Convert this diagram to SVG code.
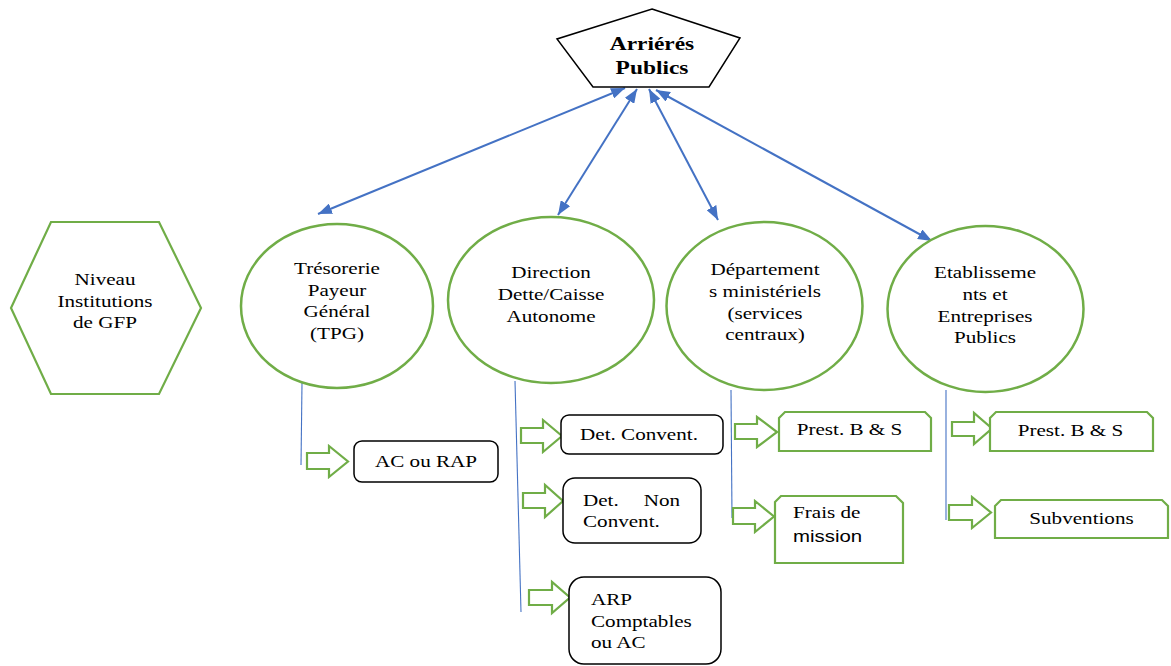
<svg xmlns="http://www.w3.org/2000/svg" width="1171" height="666" viewBox="0 0 1171 666">
<style>
  text{font-family:"Liberation Serif","Times New Roman",serif;font-size:16.5px;fill:#000}
  .c{text-anchor:middle}
  .b{font-weight:bold;font-size:18px}
  .sans{font-family:"Liberation Sans",Arial,sans-serif;font-size:17px}
  .g{fill:#fff;stroke:#70AD47;stroke-width:2.2}
  .ell{fill:#fff;stroke:#70AD47;stroke-width:2.5}
  .k{fill:#fff;stroke:#000;stroke-width:1.5}
  .blue{stroke:#4472C4;stroke-width:2;fill:none}
  .vl{stroke:#4472C4;stroke-width:1.1;fill:none}
</style>
<defs>
  <marker id="ah" viewBox="0 0 14 11" refX="14" refY="5.5" markerWidth="14" markerHeight="11" markerUnits="userSpaceOnUse" orient="auto-start-reverse">
    <path d="M0,0 L14,5.5 L0,11 Z" fill="#4472C4"/>
  </marker>
</defs>
<rect width="1171" height="666" fill="#fff"/>

<g id="connectors">
  <line class="blue" x1="625" y1="88" x2="318" y2="214" marker-start="url(#ah)" marker-end="url(#ah)"/>
  <line class="blue" x1="637" y1="89" x2="558" y2="215" marker-start="url(#ah)" marker-end="url(#ah)"/>
  <line class="blue" x1="649" y1="89" x2="718" y2="220" marker-start="url(#ah)" marker-end="url(#ah)"/>
  <line class="blue" x1="656" y1="90" x2="932" y2="241" marker-start="url(#ah)" marker-end="url(#ah)"/>
  <line class="vl" x1="302" y1="383" x2="301" y2="465"/>
  <line class="vl" x1="515" y1="381" x2="521" y2="612"/>
  <line class="vl" x1="731" y1="390" x2="732" y2="518"/>
  <line class="vl" x1="946" y1="390" x2="946" y2="520"/>
  <path class="g" d="M307,453 H329 V446 L348,461.5 L329,477 V469 H307 Z"/>
  <path class="g" d="M521,428 H543 V420 L562,436 L543,452 V443 H521 Z"/>
  <path class="g" d="M523,493 H545 V485 L563,501 L545,517 V508 H523 Z"/>
  <path class="g" d="M529,590 H552 V582 L570,597.5 L552,613 V605 H529 Z"/>
  <path class="g" d="M735,424 H757 V417 L777,432 L757,447 V439 H735 Z"/>
  <path class="g" d="M733,508 H755 V501 L774,516.5 L755,532 V524 H733 Z"/>
  <path class="g" d="M952,422 H974 V413 L992,428.5 L974,444 V436 H952 Z"/>
  <path class="g" d="M949,505 H972 V497 L991,512.5 L972,528 V520 H949 Z"/>
</g>

<g id="arrieres">
  <polygon points="652,9 740,38 709,87 593,87 557,39" fill="#fff" stroke="#000" stroke-width="1.5"/>
  <text class="c b" transform="translate(652,50) scale(1.3,1)">Arriérés</text>
  <text class="c b" transform="translate(652,74) scale(1.3,1)">Publics</text>
</g>

<g id="niveau">
  <polygon points="51,222 159,222 201,308 159,394 51,394 11,308" class="g"/>
  <text class="c" transform="translate(105,285) scale(1.28,1)">Niveau</text>
  <text class="c" transform="translate(105,306.5) scale(1.28,1)">Institutions</text>
  <text class="c" transform="translate(105,328) scale(1.28,1)">de GFP</text>
</g>

<g id="tpg">
  <ellipse class="ell" cx="337" cy="306" rx="96" ry="82"/>
  <text class="c" transform="translate(337,274) scale(1.28,1)">Trésorerie</text>
  <text class="c" transform="translate(337,295.5) scale(1.28,1)">Payeur</text>
  <text class="c" transform="translate(337,317) scale(1.28,1)">Général</text>
  <text class="c" transform="translate(337,338.5) scale(1.28,1)">(TPG)</text>
</g>

<g id="direction">
  <ellipse class="ell" cx="551" cy="300" rx="103" ry="83"/>
  <text class="c" transform="translate(551,278) scale(1.28,1)">Direction</text>
  <text class="c" transform="translate(551,300) scale(1.28,1)">Dette/Caisse</text>
  <text class="c" transform="translate(551,321.5) scale(1.28,1)">Autonome</text>
</g>

<g id="departements">
  <ellipse class="ell" cx="764.5" cy="306" rx="98" ry="84"/>
  <text class="c" transform="translate(765,275) scale(1.28,1)">Département</text>
  <text class="c" transform="translate(765,297) scale(1.28,1)">s ministériels</text>
  <text class="c" transform="translate(765,318.5) scale(1.28,1)">(services</text>
  <text class="c" transform="translate(765,340) scale(1.28,1)">centraux)</text>
</g>

<g id="etablissements">
  <ellipse class="ell" cx="985.5" cy="309" rx="98" ry="83"/>
  <text class="c" transform="translate(985,278) scale(1.28,1)">Etablisseme</text>
  <text class="c" transform="translate(985,300) scale(1.28,1)">nts et</text>
  <text class="c" transform="translate(985,321.5) scale(1.28,1)">Entreprises</text>
  <text class="c" transform="translate(985,343) scale(1.28,1)">Publics</text>
</g>

<g id="ac-rap">
  <rect class="k" x="354" y="441" width="144" height="41" rx="8"/>
  <text class="c" transform="translate(426,467) scale(1.28,1)">AC ou RAP</text>
</g>

<g id="det-convent">
  <rect class="k" x="561" y="415" width="162" height="39" rx="8"/>
  <text class="c" transform="translate(639,440) scale(1.28,1)">Det. Convent.</text>
</g>

<g id="det-non-convent">
  <rect class="k" x="563" y="478" width="138" height="65" rx="12"/>
  <text transform="translate(583,506) scale(1.28,1)">Det.</text>
  <text text-anchor="end" transform="translate(680,506) scale(1.28,1)">Non</text>
  <text transform="translate(583,527) scale(1.28,1)">Convent.</text>
</g>

<g id="arp">
  <rect class="k" x="569" y="577" width="152" height="87" rx="15"/>
  <text transform="translate(591,605) scale(1.28,1)">ARP</text>
  <text transform="translate(591,626.5) scale(1.28,1)">Comptables</text>
  <text transform="translate(591,648) scale(1.28,1)">ou AC</text>
</g>

<g id="prest-dep">
  <path class="g" d="M779,418 L785,412 H925 L931,418 V451 H779 Z"/>
  <text class="c" transform="translate(849.5,435) scale(1.28,1)">Prest. B &amp; S</text>
</g>

<g id="frais-mission">
  <path class="g" d="M775,502 L781,496 H896 L903,503 V563 H775 Z"/>
  <text transform="translate(793,518) scale(1.28,1)">Frais de</text>
  <text class="sans" transform="translate(793,542) scale(1.2,1)">mission</text>
</g>

<g id="prest-etab">
  <path class="g" d="M990,418 L996,412 H1147 L1153,418 V451 H990 Z"/>
  <text class="c" transform="translate(1070.5,436) scale(1.28,1)">Prest. B &amp; S</text>
</g>

<g id="subventions">
  <path class="g" d="M995,506 L1001,500 H1162 L1168,506 V538 H995 Z"/>
  <text class="c" transform="translate(1081.5,524) scale(1.28,1)">Subventions</text>
</g>
</svg>
